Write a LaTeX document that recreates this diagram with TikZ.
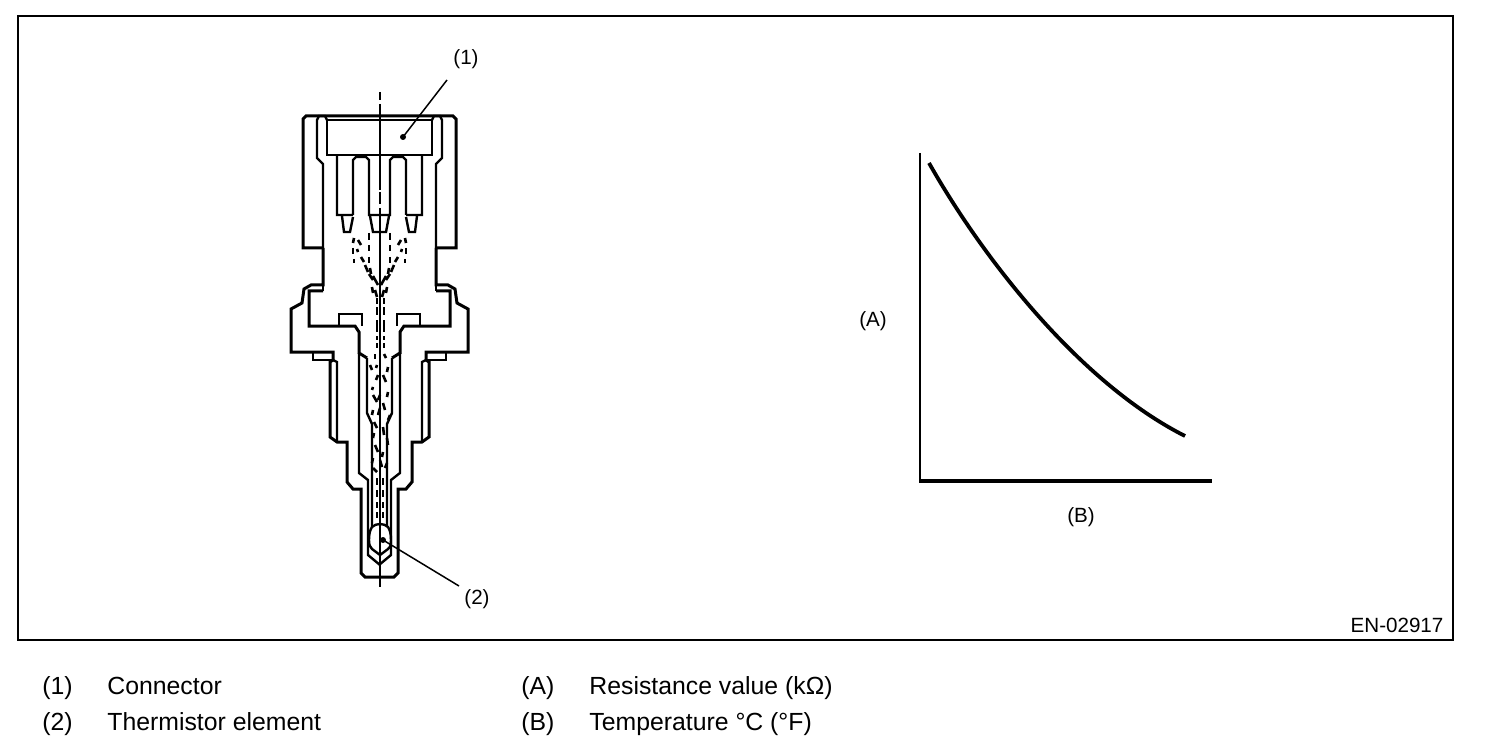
\documentclass[tikz,border=0pt]{standalone}
\usepackage{fontspec}
\setmainfont{Liberation Sans}
\newcommand{\legendfont}{\fontsize{12.4pt}{14pt}\selectfont}
\newcommand{\labelfont}{\fontsize{10.3pt}{12pt}\selectfont}
\tikzset{
  thick line/.style={line width=1.5pt,line join=miter},
  mid line/.style={line width=1.2pt},
  thin line/.style={line width=0.75pt},
  strand/.style={line width=1.3pt},
  lab/.style={inner sep=0pt,font=\labelfont},
  leg/.style={inner sep=0pt,anchor=base west,font=\legendfont},
}
\begin{document}
\begin{tikzpicture}[x=0.5pt,y=-0.5pt]
\useasboundingbox (0,0) rectangle (1504,754);
\draw[line width=0.55pt] (18,16) rectangle (1453,640);
% half-sensor drawn twice, mirrored about x=379.5
\foreach \s/\c in {1/0,-1/759}{
\begin{scope}[xshift=\c*0.5pt,xscale=\s]
 \draw[thick line] (380,116) -- (306,116) -- (303,119) -- (303,248) -- (323,248);
 \draw[mid line] (323,248) -- (323,164) -- (317,158) -- (317,120) -- (319,116) -- (325,116) -- (327,120);
 \draw[thick line] (323,248) -- (323,285) -- (311,285) -- (304,289) -- (302,303) -- (291,309) -- (291,352) -- (333,352) -- (333,360);
 \draw[thick line] (323,291) -- (309,291) -- (309,326) -- (355,326) -- (359,332) -- (359,353) -- (367,358);
 \draw[mid line] (323,285) -- (323,291);
 \draw[mid line] (339,326) -- (339,314) -- (362,314) -- (362,326);
 \draw[mid line] (313,352) -- (313,360) -- (333,360);
 \draw[thick line] (333,360) -- (330,362) -- (330,437) -- (337,442) -- (347,442) -- (347,482) -- (353,489) -- (361,489) -- (361,573) -- (365,577) -- (380,577);
 \draw[mid line] (337,442) -- (337,362) -- (333,360);
 \draw[mid line] (359,353) -- (359,473) -- (368,480) -- (368,555) -- (380,565);
 \draw[mid line] (367,358) -- (367,413) -- (372,424) -- (372,527);
 \draw[mid line] (327,120) -- (380,120);
 \draw[mid line] (327,120) -- (327,155) -- (380,155);
 \draw[mid line] (337,155) -- (337,215) -- (353,215) (353,215) -- (353,160) -- (356,157) -- (366,157) -- (369,160) -- (369,215) -- (380,215);
 \draw[mid line] (342,216) -- (344,232) -- (350,232) -- (353,217);
 \draw[mid line] (370,216) -- (373,232) -- (380,232);
 % upper lead wires
 \foreach \ax/\ay/\bx/\by in {354/238/353/243,353/248/353/254,354/259/354/263,
   358/240/361/245,357/249/358/252,361/257/364/262,365/265/368/272,369/274/373/280,
   372/287/373/293,375/290/377/297,
   369/233/369/240,369/245/369/251,369/257/369/263,370/268/371/274,373/276/378/285}
   {\draw[strand] (\ax,\ay) -- (\bx,\by);}
\end{scope}}
% thermistor
\draw[mid line] (372,527) .. controls (376,523) and (384,523) .. (388,527) .. controls (390,530) and (391,534) .. (391,540) .. controls (391,546) and (390,548) .. (388,549) -- (380,555) -- (372,549) .. controls (370,547) and (369,545) .. (369,540) .. controls (369,534) and (370,530) .. (372,527) -- cycle;
% centre axis
\draw[thin line] (380,92) -- (380,100) (380,104) -- (380,190) (380,192) -- (380,204) (380,208) -- (380,587);
% lower lead wires
\foreach \ax/\ay/\bx/\by in {377/298/377/304,384/298/384/304,377/307/377/315,384/307/384/315,
  377/320/377/332,384/320/384/332,377/336/377/340,384/336/384/340,
  377/343/377/348,384/343/384/348,375/354/375/359,384/354/386/358,370/365/372/370,
  377/365/376/368,388/367/387/372,378/375/376/380,383/375/386/382,373/387/372/390,
  388/392/387/397,373/395/377/402,380/395/378/400,373/410/372/415,383/403/385/410,
  380/408/378/415,390/415/388/420,374/422/377/428,383/427/384/435,374/433/373/438,
  387/438/388/445,375/445/378/452,383/452/382/457,373/458/372/463,380/460/382/467,
  387/463/385/468,373/468/377/472,
  377/478/377/485,383/478/383/485,377/490/377/497,383/490/383/497,
  377/502/377/508,383/502/383/508,377/512/377/518,383/512/383/518}
  {\draw[strand] (\ax,\ay) -- (\bx,\by);}
% leaders
\coordinate (d1) at (403,137);
\coordinate (d2) at (383,540);
\fill (d1) circle (1.5pt);
\fill (d2) circle (1.5pt);
\node[lab] (n1) at (466,59) {(1)};
\node[lab] (n2) at (477,599) {(2)};
\draw[thin line] (d1) -- (447,80);
\draw[thin line] (d2) -- (459,586);
% graph
\coordinate (o) at (920,481);
\coordinate (ay) at (920,153);
\coordinate (ax) at (1212,481);
\draw[line width=1.4pt] (ay) -- (920,482.5);
\draw[line width=1.9pt] (919,481) -- (ax);
\draw[line width=1.9pt] (929,163) .. controls (985,262) and (1082,384) .. (1185,436);
\node[lab] (na) at (873,321) {(A)};
\node[lab] (nb) at (1081,517) {(B)};
\node[lab] (nid) at (1397,625) {EN-02917};
% legend
\node[leg] at (42,694) {(1)};
\node[leg] at (107,694) {Connector};
\node[leg] at (42,730) {(2)};
\node[leg] at (107,730) {Thermistor element};
\node[leg] at (521,694) {(A)};
\node[leg] at (589,694) {Resistance value (kΩ)};
\node[leg] at (521,730) {(B)};
\node[leg] at (589,730) {Temperature °C (°F)};
\end{tikzpicture}
\end{document}
